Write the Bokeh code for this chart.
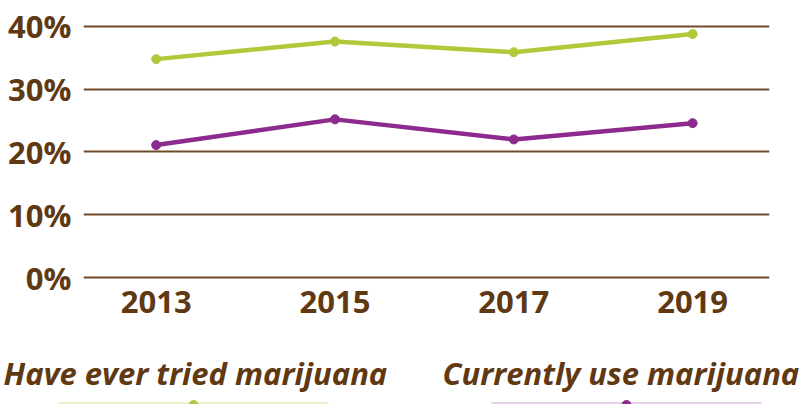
from bokeh.plotting import figure
from bokeh.layouts import column
from bokeh.models import FixedTicker, ColumnDataSource
from bokeh.core.properties import value
from bokeh.embed import file_html
from bokeh.resources import INLINE

years = [2013, 2015, 2017, 2019]
year_labels = ["2013", "2015", "2017", "2019"]
ever_tried = [34.8, 37.6, 35.9, 38.8]
current_use = [21.1, 25.2, 22.0, 24.6]
y_ticks = [0, 10, 20, 30, 40]
y_tick_labels = ["0%", "10%", "20%", "30%", "40%"]
series_names = ["Have ever tried marijuana", "Currently use marijuana"]

BROWN = "#603913"
GRID = "#6e4a2a"
GREEN = "#b0c93a"
PURPLE = "#8d2a8d"
PALE_GREEN = "#eaf2cf"
PALE_PURPLE = "#e6d2e8"
FONT = "Open Sans"

p = figure(width=802, height=340, output_backend="svg", toolbar_location=None,
           x_range=(2012.187, 2019.86), y_range=(-0.478, 40.956),
           min_border_left=83, min_border_right=33, min_border_top=20, min_border_bottom=60)
p.frame_align = False
p.outline_line_color = None
p.background_fill_color = "white"
p.border_fill_color = "white"

p.xgrid.grid_line_color = None
p.ygrid.grid_line_color = GRID
p.ygrid.grid_line_width = 2
p.ygrid.ticker = FixedTicker(ticks=y_ticks)

p.yaxis.ticker = FixedTicker(ticks=y_ticks)
p.yaxis.major_label_overrides = {t: l for t, l in zip(y_ticks, y_tick_labels)}
p.xaxis.ticker = FixedTicker(ticks=years)
p.xaxis.major_label_overrides = {t: l for t, l in zip(years, year_labels)}
for ax in (p.xaxis, p.yaxis):
    ax.axis_line_color = None
    ax.major_tick_line_color = None
    ax.minor_tick_line_color = None
    ax.major_tick_out = 0
    ax.major_tick_in = 0
    ax.major_label_text_font = FONT
    ax.major_label_text_font_style = "bold"
    ax.major_label_text_font_size = "31px"
    ax.major_label_text_color = BROWN
p.yaxis.major_label_standoff = 12
p.xaxis.major_label_standoff = 10

for vals, col in ((ever_tried, GREEN), (current_use, PURPLE)):
    src = ColumnDataSource(dict(x=years, y=vals))
    p.line("x", "y", source=src, line_color=col, line_width=4.5)
    p.scatter("x", "y", source=src, size=9, fill_color=col, line_color=col)

# legend strip
leg = figure(width=802, height=64, output_backend="svg", toolbar_location=None,
             x_range=(0, 802), y_range=(0, 64),
             min_border_left=0, min_border_right=0, min_border_top=0, min_border_bottom=0)
leg.frame_align = False
leg.outline_line_color = None
leg.axis.visible = False
leg.grid.visible = False

leg_src = ColumnDataSource(dict(
    tx=[3, 442], ty=[32, 32], text=series_names,
    x0=[58, 491], x1=[328, 761], ly=[1.3, 1.3],
    dx=[193, 626], dy=[-0.5, -0.5],
    pale=[PALE_GREEN, PALE_PURPLE], col=[GREEN, PURPLE]))
leg.text(x="tx", y="ty", text="text", source=leg_src, text_font=value(FONT),
         text_font_style="bold italic", text_font_size="31px", text_color=BROWN,
         text_baseline="alphabetic", text_align="left")
leg.segment(x0="x0", y0="ly", x1="x1", y1="ly", source=leg_src, line_color="pale", line_width=2.5)
leg.scatter(x="dx", y="dy", source=leg_src, size=9, fill_color="col", line_color="col")

layout = column(p, leg, spacing=0)
open("out.html", "w").write(file_html(layout, INLINE))
